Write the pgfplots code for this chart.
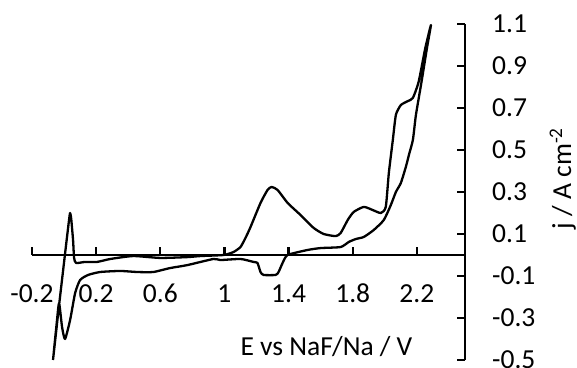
\documentclass[border=0pt]{standalone}
\usepackage{fontspec}
\setmainfont{Carlito}
\usepackage{pgfplots}
\pgfplotsset{compat=1.18}
\begin{document}
\fontsize{27bp}{32bp}\selectfont
\begin{tikzpicture}[font=\fontsize{27bp}{32bp}\selectfont]
\begin{axis}[
  scale only axis,
  width=433bp, height=336bp,
  xmin=-0.2, xmax=2.5, ymin=-0.5, ymax=1.1,
  axis x line=middle, axis y line=right,
  axis line style={-, line width=2.3bp},
  xtick={-0.2,0.2,0.6,1,1.4,1.8,2.2},
  ytick={-0.5,-0.3,-0.1,0.1,0.3,0.5,0.7,0.9,1.1},
  tick align=inside,
  major tick length=8bp,
  tick style={line width=2.3bp, black},
  /pgf/number format/assume math mode=true,
  /pgf/number format/fixed,
  tick label style={font=\fontsize{27.5bp}{32bp}\selectfont},
  label style={font=\fontsize{27.5bp}{32bp}\selectfont},
  xticklabel style={anchor=base, inner sep=0pt, yshift=-47bp},
  yticklabel style={anchor=west, inner sep=0pt, xshift=27bp},
  xlabel={E vs NaF/Na / V},
  ylabel={j / A cm\textsuperscript{-2}},
  xlabel style={at={(axis description cs:0.68,0)}, anchor=base, inner sep=0pt, yshift=5bp},
  ylabel style={at={(axis description cs:1.2448,0.54)}, anchor=base, inner sep=0pt},
  clip=false,
]
\addplot[black, line width=2.3bp, line join=round, smooth, tension=0.35] coordinates {
(-0.069,-0.50) (-0.031,-0.238) (0.0125,0.048) (0.031,0.167) (0.0375,0.20) (0.044,0.176)
(0.056,0.071) (0.0625,-0.014) (0.075,-0.038) (0.131,-0.033) (0.206,-0.033) (0.288,-0.019)
(0.431,-0.005) (0.6,-0.014) (0.769,-0.010) (0.85,-0.005) (0.994,0) (1.056,0.014)
(1.1,0.038) (1.131,0.081) (1.1625,0.133) (1.225,0.248) (1.269,0.310) (1.294,0.324)
(1.331,0.310) (1.394,0.248) (1.475,0.190) (1.556,0.129) (1.619,0.100) (1.694,0.090)
(1.725,0.105) (1.769,0.167) (1.806,0.205) (1.869,0.229) (1.925,0.214) (1.975,0.2)
(2.006,0.229) (2.025,0.390) (2.05,0.548) (2.069,0.667) (2.1,0.714) (2.144,0.733)
(2.175,0.748) (2.211,0.825) (2.252,0.984) (2.2875,1.095)
(2.2625,0.984) (2.229,0.825) (2.194,0.667) (2.175,0.548) (2.15,0.476) (2.131,0.419)
(2.1,0.343) (2.069,0.3) (2.0375,0.238) (1.994,0.167) (1.931,0.119) (1.869,0.086)
(1.819,0.076) (1.775,0.062) (1.725,0.038) (1.6,0.033) (1.519,0.024) (1.394,0)
(1.3625,-0.038) (1.3375,-0.081) (1.319,-0.095) (1.244,-0.095) (1.225,-0.081) (1.206,-0.038)
(1.181,-0.033) (1.1,-0.019) (0.975,-0.024) (0.931,-0.019) (0.769,-0.048) (0.6625,-0.062)
(0.556,-0.081) (0.456,-0.081) (0.35,-0.076) (0.225,-0.081) (0.15,-0.095) (0.1,-0.119)
(0.069,-0.181) (0.0375,-0.310) (0.006,-0.40) (-0.0125,-0.343) (-0.031,-0.229) (-0.044,-0.31)
(-0.069,-0.5)
};
\end{axis}
\pgfresetboundingbox
\path (-32bp,-8bp) rectangle (545bp,360bp);
\end{tikzpicture}
\end{document}
